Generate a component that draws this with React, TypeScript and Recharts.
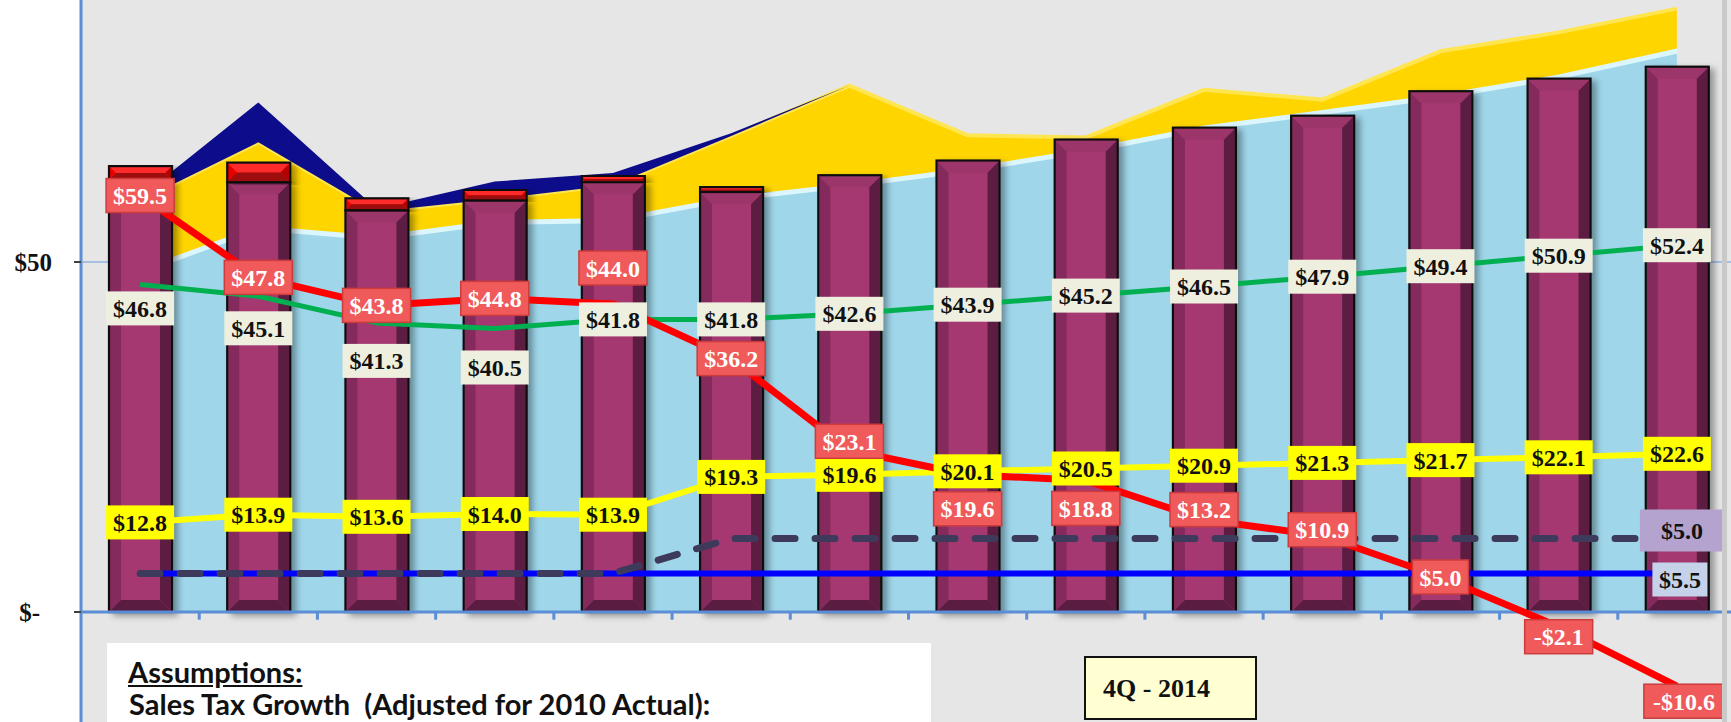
import {
  ComposedChart,
  Area,
  Bar,
  Line,
  XAxis,
  YAxis,
  CartesianGrid,
  ReferenceLine,
  LabelList
} from 'recharts'

// 14 periods, left to right (no category labels are shown on the chart)
const periods = [1, 2, 3, 4, 5, 6, 7, 8, 9, 10, 11, 12, 13, 14]

// stacked areas, bottom to top
const lightBlueLayer = [49.0, 55.2, 53.8, 56.0, 56.3, 59.4, 61.3, 63.5, 66.2, 69.5, 71.7, 74.0, 76.8, 80.5]
const goldLayer = [9.8, 11.9, 3.4, 3.0, 4.7, 8.6, 13.9, 4.6, 1.6, 5.1, 1.5, 6.1, 6.0, 5.7]
const navyLayer = [0.5, 5.7, 0.4, 2.5, 1.7, 0.4, 0, 0, 0, 0, 0, 0, 0, 0]

// stacked bars (purple body + red cap)
const barValues = [61.7, 61.4, 57.4, 58.8, 61.4, 60.0, 62.4, 64.5, 67.5, 69.2, 70.9, 74.4, 76.2, 77.9]
const capValues = [2.0, 2.8, 1.7, 1.5, 0.9, 0.7, 0, 0, 0, 0, 0, 0, 0, 0]

// lines
const redLine = [59.5, 47.8, 43.8, 44.8, 44.0, 36.2, 23.1, 19.6, 18.8, 13.2, 10.9, 5.0, -2.1, -10.6]
const greenLine = [46.8, 45.1, 41.3, 40.5, 41.8, 41.8, 42.6, 43.9, 45.2, 46.5, 47.9, 49.4, 50.9, 52.4]
const yellowLine = [12.8, 13.9, 13.6, 14.0, 13.9, 19.3, 19.6, 20.1, 20.5, 20.9, 21.3, 21.7, 22.1, 22.6]
const blueLine = [5.5, 5.5, 5.5, 5.5, 5.5, 5.5, 5.5, 5.5, 5.5, 5.5, 5.5, 5.5, 5.5, 5.5]
// dashed line sits on top of the blue one
const dashedAddOn = [0, 0, 0, 0, 0, 5.0, 5.0, 5.0, 5.0, 5.0, 5.0, 5.0, 5.0, 5.0]

const yTicks = [0, 50]

const rows = periods.map((p, i) => ({
  pos: p,
  lightBlue: lightBlueLayer[i],
  gold: goldLayer[i],
  navy: navyLayer[i],
  spend: barValues[i],
  cap: capValues[i],
  red: redLine[i],
  green: greenLine[i],
  yellow: yellowLine[i],
  floor: blueLine[i],
  dashed: blueLine[i] + dashedAddOn[i],
  dashedLabel: dashedAddOn[i]
}))

// tick marks between categories on the zero line
const boundaries = periods.slice(0, -1).map(p => p + 0.5)

const serif = '"Liberation Serif", "Times New Roman", serif'
const axisBlue = '#5b8ed6'

// label nudges (px) so boxes don't sit on top of each other
const redDx = [0, 0, 0, 0, 0, 0, 0, 0, 0, 0, 0, 0, 0, 7]
const redDy = [0, 0, 0, 0, -36, 0, -9, 34, 28, -10, -6, 0, 10, 15]
const greenDy = [24, 32, 38, 39, 0, 0, 0, 0, 0, 0, 0, 0, 0, 0]

const fmt = (v: number) => (v < 0 ? `-$${Math.abs(v).toFixed(1)}` : `$${v.toFixed(1)}`)

type BoxOpts = {
  fill: string
  stroke?: string
  color: string
  h?: number
  w?: number
  dx?: number[] | number
  dy?: number[] | number
  lastOnly?: boolean
}

function boxLabel(opts: BoxOpts) {
  return (props: any) => {
    const { index, value } = props
    if (value == null) return null
    if (opts.lastOnly && index !== periods.length - 1) return null
    const vb = props.viewBox || {}
    const px = props.x ?? vb.x
    const py = props.y ?? vb.y
    const dx = Array.isArray(opts.dx) ? opts.dx[index] || 0 : opts.dx || 0
    const dy = Array.isArray(opts.dy) ? opts.dy[index] || 0 : opts.dy || 0
    const text = fmt(Number(value))
    const w = opts.w ?? text.length * 12 + 8
    const h = opts.h ?? 34
    const cx = px + dx
    const cy = py + dy
    return (
      <g key={`lb-${index}`}>
        <rect
          x={cx - w / 2}
          y={cy - h / 2}
          width={w}
          height={h}
          fill={opts.fill}
          stroke={opts.stroke || 'none'}
          strokeWidth={1.5}
        />
        <text
          x={cx}
          y={cy + 8.5}
          textAnchor="middle"
          fontFamily={serif}
          fontWeight="bold"
          fontSize={24}
          fill={opts.color}
        >
          {text}
        </text>
      </g>
    )
  }
}

const purpleTones = { face: '#a5386f', left: '#852c5d', right: '#5d1e43', top: '#9b346a', bottom: '#5a1d40' }
const capTones = { face: '#ff0a0a', left: '#e80000', right: '#b30000', top: '#ff2a2a', bottom: '#9e0c0c' }

function BevelBar(props: any) {
  const { x, y, width, height, tones } = props
  if (!height || height <= 0.5) return <g />
  const c = tones
  const b = Math.min(12, width / 4, height / 2)
  const r = x + width
  const btm = y + height
  return (
    <g filter="url(#barShadow)">
      <rect x={x} y={y} width={width} height={height} fill={c.face} />
      <polygon points={`${x},${y} ${x + b},${y + b} ${x + b},${btm - b} ${x},${btm}`} fill={c.left} />
      <polygon points={`${r},${y} ${r - b},${y + b} ${r - b},${btm - b} ${r},${btm}`} fill={c.right} />
      <polygon points={`${x},${y} ${r},${y} ${r - b},${y + b} ${x + b},${y + b}`} fill={c.top} />
      <polygon points={`${x},${btm} ${r},${btm} ${r - b},${btm - b} ${x + b},${btm - b}`} fill={c.bottom} />
      <rect x={x} y={y} width={width} height={height} fill="none" stroke="#111" strokeWidth={2.2} />
    </g>
  )
}

function YTick(props: any) {
  const { x, y, payload } = props
  const v = payload.value
  const text = v === 0 ? '$-' : `$${v}`
  return (
    <text
      x={x - (v === 0 ? 32 : 20)}
      y={y + 9}
      textAnchor="end"
      fontFamily={serif}
      fontWeight="bold"
      fontSize={25}
      fill="#111"
    >
      {text}
    </text>
  )
}

export default function App() {
  return (
    <div
      style={{
        position: 'absolute',
        left: 0,
        top: 0,
        width: 1731,
        height: 722,
        overflow: 'hidden',
        background: '#ffffff'
      }}
    >
      <div style={{ position: 'absolute', left: 0, top: -88 }}>
        <ComposedChart width={1736} height={1050} data={rows} margin={{ top: 0, right: 0, bottom: 0, left: 0 }}>
          <defs>
            <filter id="barShadow" x="-20%" y="-5%" width="150%" height="115%">
              <feDropShadow dx="5" dy="3" stdDeviation="3" floodColor="#000" floodOpacity="0.35" />
            </filter>
          </defs>
          <CartesianGrid vertical={false} stroke="#8fb3e0" strokeWidth={1.5} fill="#e6e6e6" />
          <XAxis type="number" dataKey="pos" domain={[0.5, 14.5]} hide />
          <YAxis
            domain={[-50, 100]}
            ticks={yTicks}
            interval={0}
            width={81}
            axisLine={{ stroke: axisBlue, strokeWidth: 3 }}
            tickLine={{ stroke: '#404040', strokeWidth: 2 }}
            tickSize={7}
            tick={<YTick />}
          />

          <Area type="linear" dataKey="lightBlue" stackId="rev" fill="#9fd6ea" fillOpacity={1}
            stroke="#dcf6fd" strokeWidth={10} isAnimationActive={false} />
          <Area type="linear" dataKey="gold" stackId="rev" fill="#ffd500" fillOpacity={1}
            stroke="#ffe550" strokeWidth={4} isAnimationActive={false} />
          <Area type="linear" dataKey="navy" stackId="rev" fill="#0d0d8c" fillOpacity={1}
            stroke="none" isAnimationActive={false} />

          <Bar dataKey="spend" stackId="exp" barSize={63} shape={<BevelBar tones={purpleTones} />}
            isAnimationActive={false} />
          <Bar dataKey="cap" stackId="exp" barSize={63} shape={<BevelBar tones={capTones} />}
            isAnimationActive={false} />

          <ReferenceLine y={0} stroke={axisBlue} strokeWidth={3} />
          {boundaries.map(b => (
            <ReferenceLine key={b} segment={[{ x: b, y: 0 }, { x: b, y: -1.1 }]} stroke={axisBlue} strokeWidth={3} />
          ))}

          <Line type="linear" dataKey="floor" stroke="#0000ff" strokeWidth={6} dot={false} activeDot={false}
            isAnimationActive={false} />
          <Line type="linear" dataKey="dashed" stroke="#3d3a5c" strokeWidth={7} strokeDasharray="20 20"
            strokeLinecap="round" dot={false} activeDot={false} isAnimationActive={false} />
          <Line type="linear" dataKey="yellow" stroke="#ffff00" strokeWidth={6} dot={false} activeDot={false}
            strokeLinejoin="round" isAnimationActive={false} />
          <Line type="linear" dataKey="green" stroke="#00b050" strokeWidth={5} dot={false} activeDot={false}
            strokeLinejoin="round" isAnimationActive={false} />
          <Line type="linear" dataKey="red" stroke="#ff0000" strokeWidth={7} dot={false} activeDot={false}
            strokeLinejoin="round" isAnimationActive={false} />

          {/* label carriers, drawn last so the boxes sit above every line */}
          <Line dataKey="yellow" stroke="none" dot={false} activeDot={false} isAnimationActive={false}>
            <LabelList dataKey="yellow" content={boxLabel({ fill: '#ffff00', color: '#111' })} />
          </Line>
          <Line dataKey="green" stroke="none" dot={false} activeDot={false} isAnimationActive={false}>
            <LabelList dataKey="green" content={boxLabel({ fill: '#efefe0', color: '#111', dy: greenDy })} />
          </Line>
          <Line dataKey="red" stroke="none" dot={false} activeDot={false} isAnimationActive={false}>
            <LabelList dataKey="red"
              content={boxLabel({ fill: '#f05a5a', stroke: '#cc3c3c', color: '#ffffff', dx: redDx, dy: redDy })} />
          </Line>
          <Line dataKey="dashed" stroke="none" dot={false} activeDot={false} isAnimationActive={false}>
            <LabelList dataKey="dashedLabel"
              content={boxLabel({ fill: '#b4a3cf', color: '#111', w: 84, h: 42, dx: 5, dy: -8, lastOnly: true })} />
          </Line>
          <Line dataKey="floor" stroke="none" dot={false} activeDot={false} isAnimationActive={false}>
            <LabelList dataKey="floor"
              content={boxLabel({ fill: '#c6d2ea', color: '#111', w: 55, dx: 3, dy: 6, lastOnly: true })} />
          </Line>
        </ComposedChart>
      </div>

      {/* right-hand frame edge */}
      <div style={{ position: 'absolute', left: 1722, top: 0, width: 5, height: 722, background: '#c9c9c9' }} />

      {/* text boxes placed on the chart */}
      <div
        style={{
          position: 'absolute',
          left: 107,
          top: 643,
          width: 824,
          height: 100,
          background: '#ffffff',
          fontFamily: 'Lato, "Open Sans", sans-serif',
          fontWeight: 'bold',
          color: '#111'
        }}
      >
        <div style={{ position: 'absolute', left: 21, top: 14, fontSize: 29, lineHeight: '29px', textDecoration: 'underline', whiteSpace: 'nowrap' }}>
          Assumptions:
        </div>
        <div style={{ position: 'absolute', left: 22, top: 46, fontSize: 29, lineHeight: '29px', whiteSpace: 'pre' }}>
          {'Sales Tax Growth  (Adjusted for 2010 Actual):'}
        </div>
      </div>

      <div
        style={{
          position: 'absolute',
          left: 1084,
          top: 656,
          width: 173,
          height: 64,
          boxSizing: 'border-box',
          border: '2.5px solid #111',
          background: '#ffffd2',
          fontFamily: serif,
          fontWeight: 'bold',
          fontSize: 26,
          color: '#111'
        }}
      >
        <div style={{ position: 'absolute', left: 17, top: 18, lineHeight: '26px', whiteSpace: 'pre' }}>4Q - 2014</div>
      </div>
    </div>
  )
}
